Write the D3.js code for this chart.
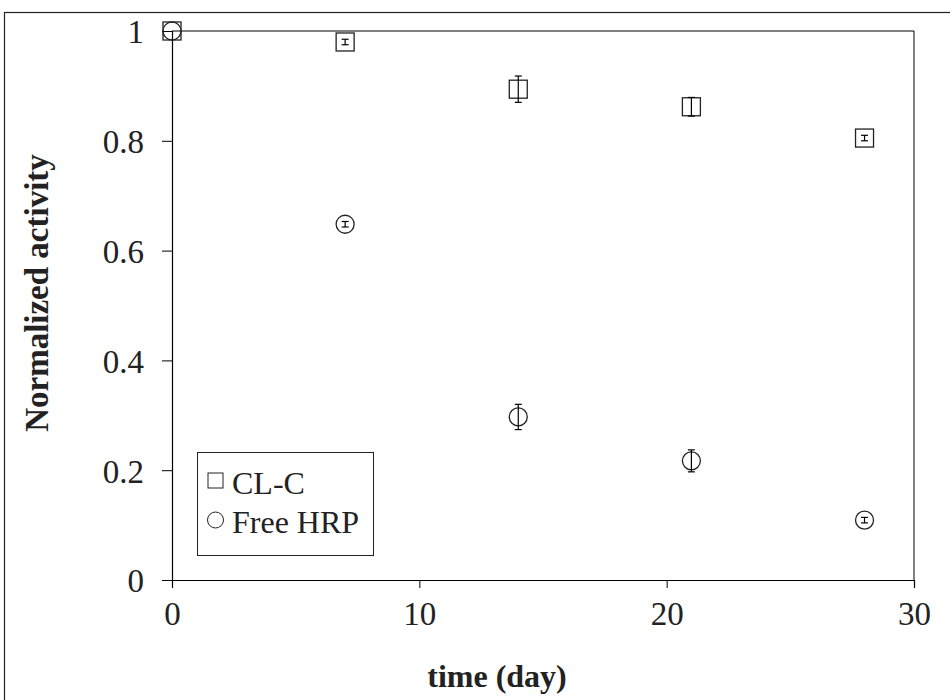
<!DOCTYPE html>
<html>
<head>
<meta charset="utf-8">
<script src="https://cdn.jsdelivr.net/npm/d3@7"></script>
<style>
  body { margin: 0; background: #fff; }
  svg { font-family: "Liberation Serif", "Times New Roman", serif; }
</style>
</head>
<body>
<svg width="950" height="700"></svg>
<script>
// data
const days = [0, 7, 14, 21, 28]
const clc = [1, 0.98, 0.894, 0.862, 0.805]
const clcErr = [0, 0.005, 0.024, 0.017, 0.005]
const freeHrp = [1, 0.648, 0.297, 0.217, 0.109]
const freeErr = [0, 0.005, 0.023, 0.02, 0.005]
const xTicks = [0, 10, 20, 30]
const yTicks = [0, 0.2, 0.4, 0.6, 0.8, 1]

const svg = d3.select("svg")

// outer frame
svg.append("rect")
  .attr("x", 4.5).attr("y", 12.5)
  .attr("width", 960).attr("height", 720)
  .attr("fill", "none").attr("stroke", "#222").attr("stroke-width", 1.2)

const x = d3.scaleLinear().domain([0, 30]).range([172, 914])
const y = d3.scaleLinear().domain([0, 1]).range([580, 31])

// top and right border of plot
svg.append("path")
  .attr("d", `M${x(0)},${y(1)}H${x(30)}V${y(0)}`)
  .attr("fill", "none").attr("stroke", "#000").attr("stroke-width", 1)

const xAxis = svg.append("g")
  .attr("transform", `translate(0,${y(0)})`)
  .call(d3.axisBottom(x).tickValues(xTicks).tickSize(8).tickFormat(d3.format("d")))
xAxis.selectAll("text").attr("font-size", 33).attr("y", 22).attr("dy", "0.71em").attr("fill", "#222")
  .attr("font-family", "Liberation Serif")

const yAxis = svg.append("g")
  .attr("transform", `translate(${x(0)},0)`)
  .call(d3.axisLeft(y).tickValues(yTicks).tickSize(10).tickFormat(d => d === 0 || d === 1 ? d : d3.format(".1f")(d)))
yAxis.selectAll("text").attr("font-size", 33).attr("x", -28).attr("dy", "0.36em").attr("fill", "#222")
  .attr("font-family", "Liberation Serif")

svg.selectAll(".domain").attr("stroke", "#000").attr("stroke-width", 1.2)

// axis titles
svg.append("text")
  .attr("x", 497).attr("y", 687)
  .attr("text-anchor", "middle")
  .attr("font-size", 32).attr("font-weight", "bold").attr("fill", "#222")
  .text("time (day)")

svg.append("text")
  .attr("transform", "translate(48,293) rotate(-90)")
  .attr("text-anchor", "middle")
  .attr("font-size", 33).attr("font-weight", "bold").attr("fill", "#222")
  .text("Normalized activity")

function errorBars(vals, errs) {
  const g = svg.append("g").attr("stroke", "#000").attr("stroke-width", 1.2)
  days.forEach((d, i) => {
    if (!errs[i]) return
    const cx = x(d), top = y(vals[i] + errs[i]), bot = y(vals[i] - errs[i])
    g.append("line").attr("x1", cx).attr("x2", cx).attr("y1", top).attr("y2", bot)
    g.append("line").attr("x1", cx - 3.5).attr("x2", cx + 3.5).attr("y1", top).attr("y2", top)
    g.append("line").attr("x1", cx - 3.5).attr("x2", cx + 3.5).attr("y1", bot).attr("y2", bot)
  })
}

// CL-C squares
svg.append("g").selectAll("rect")
  .data(days.map((d, i) => ({d, v: clc[i]})))
  .join("rect")
  .attr("x", p => x(p.d) - 9).attr("y", p => y(p.v) - 9)
  .attr("width", 18).attr("height", 18)
  .attr("fill", "none").attr("stroke", "#222").attr("stroke-width", 1.3)
errorBars(clc, clcErr)

// Free HRP circles
svg.append("g").selectAll("circle")
  .data(days.map((d, i) => ({d, v: freeHrp[i]})))
  .join("circle")
  .attr("cx", p => x(p.d)).attr("cy", p => y(p.v))
  .attr("r", 9)
  .attr("fill", "none").attr("stroke", "#222").attr("stroke-width", 1.3)
errorBars(freeHrp, freeErr)

// legend
const lg = svg.append("g")
lg.append("rect")
  .attr("x", 197.5).attr("y", 452.5).attr("width", 176).attr("height", 103)
  .attr("fill", "#fff").attr("stroke", "#222").attr("stroke-width", 1)
lg.append("rect")
  .attr("x", 208).attr("y", 473).attr("width", 15).attr("height", 15)
  .attr("fill", "none").attr("stroke", "#222")
lg.append("circle")
  .attr("cx", 215.5).attr("cy", 520).attr("r", 8)
  .attr("fill", "none").attr("stroke", "#222")
lg.append("text").attr("x", 232).attr("y", 494)
  .attr("font-size", 32).attr("fill", "#222").text("CL-C")
lg.append("text").attr("x", 232).attr("y", 533)
  .attr("font-size", 32).attr("fill", "#222").text("Free HRP")
</script>
</body>
</html>
